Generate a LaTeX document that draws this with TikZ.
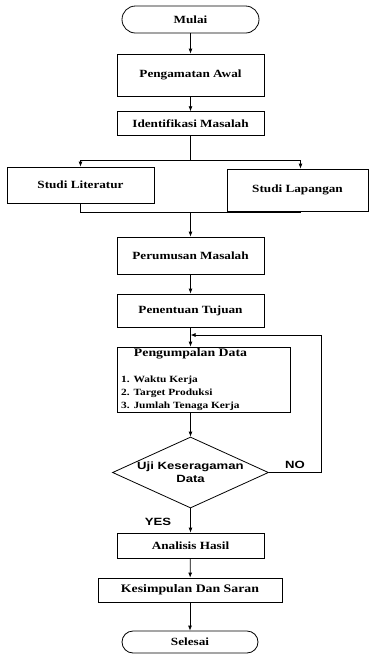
\documentclass[tikz,border=0pt]{standalone}
\usepackage{fontspec}
\setmainfont{Liberation Serif}[FakeStretch=1.2]
\newfontfamily\arialfont{Liberation Sans}[FakeStretch=1.25]
\usetikzlibrary{arrows.meta,shapes.geometric}
\begin{document}
\begin{tikzpicture}[x=1pt,y=-1pt,
  box/.style={draw, line width=0.8pt, rectangle, inner sep=0pt, fill=white,
    font=\fontsize{11}{13}\selectfont\bfseries},
  term/.style={box},
  lbl/.style={inner sep=0pt, font=\fontsize{11.5}{13}\selectfont\bfseries},
  lst/.style={inner sep=0pt, anchor=base west, font=\fontsize{9.5}{13}\selectfont\bfseries},
  sans/.style={inner sep=0pt, align=center, font=\fontsize{10.5}{13}\selectfont\arialfont\bfseries},
  line/.style={draw, line width=0.8pt},
  arr/.style={line, -{Latex[length=5pt,width=4pt]}}]
\useasboundingbox (0,0) rectangle (370,654);

\node[term, minimum width=137pt, minimum height=27pt, rounded corners=13.5pt] (mulai) at (190.5,19.5) {Mulai};
\node[box, minimum width=147pt, minimum height=42pt] (peng) at (190.5,75) {Pengamatan Awal};
\node[box, minimum width=147pt, minimum height=24pt] (ident) at (190.5,123.7) {Identifikasi Masalah};
\node[box, minimum width=147pt, minimum height=36pt] (lit) at (80.5,185) {Studi Literatur};
\node[box, minimum width=141pt, minimum height=42pt] (lap) at (297.5,190) {Studi Lapangan};
\node[box, minimum width=147pt, minimum height=37pt] (per) at (190.5,255.5) {Perumusan Masalah};
\node[box, minimum width=147pt, minimum height=33pt] (pen) at (190.5,310.5) {Penentuan Tujuan};
\node[box, minimum width=173pt, minimum height=65pt] (pd) at (203.5,379.5) {};
\node[lbl] (pdt) at (190.5,353.5) {Pengumpalan Data};
\node[lst] (l1) at (121,382.5) {1. Waktu Kerja};
\node[lst] (l2) at (121,395.5) {2. Target Produksi};
\node[lst] (l3) at (121,408.5) {3. Jumlah Tenaga Kerja};
\node[draw, line width=0.8pt, diamond, minimum width=156pt, minimum height=71pt, inner sep=0pt] (uji) at (190.5,472.5) {};
\node[sans] (ujit) at (190.5,472.5) {Uji Keseragaman\\Data};
\node[box, minimum width=147pt, minimum height=25pt] (ana) at (190.5,545.5) {Analisis Hasil};
\node[box, minimum width=184pt, minimum height=24pt, font=\fontsize{11.5}{13}\selectfont\bfseries] (kes) at (190,590) {Kesimpulan Dan Saran};
\node[term, minimum width=136pt, minimum height=22pt, rounded corners=11pt] (sel) at (190,642) {Selesai};
\node[sans] (no) at (295,465) {NO};
\node[sans] (yes) at (158,522) {YES};

\coordinate (sp) at (190.5,160);
\coordinate (mg) at (190.5,212);
\coordinate (fb) at (190.5,335);
\coordinate (fbr) at (321,335);

\draw[arr] (mulai) -- (peng);
\draw[arr] (peng) -- (ident);
\draw[line] (ident.south) -- (sp);
\draw[arr] (sp) -| (lit.north);
\draw[arr] (sp) -| ([xshift=3pt]lap.north);
\draw[line] (lit.south) |- (mg);
\draw[line] ([xshift=3pt]lap.south) |- (mg);
\draw[arr] (mg) -- (per);
\draw[arr] (per) -- (pen);
\draw[arr] (pen.south) -- (pen.south |- pd.north);
\draw[arr] (uji.east) -| (fbr) -- (fb);
\draw[arr] (pd.south -| uji.north) -- (uji.north);
\draw[arr] (uji.south) -- (ana.north);
\draw[arr] (ana) -- (kes);
\draw[arr] (kes) -- (sel);
\end{tikzpicture}
\end{document}
